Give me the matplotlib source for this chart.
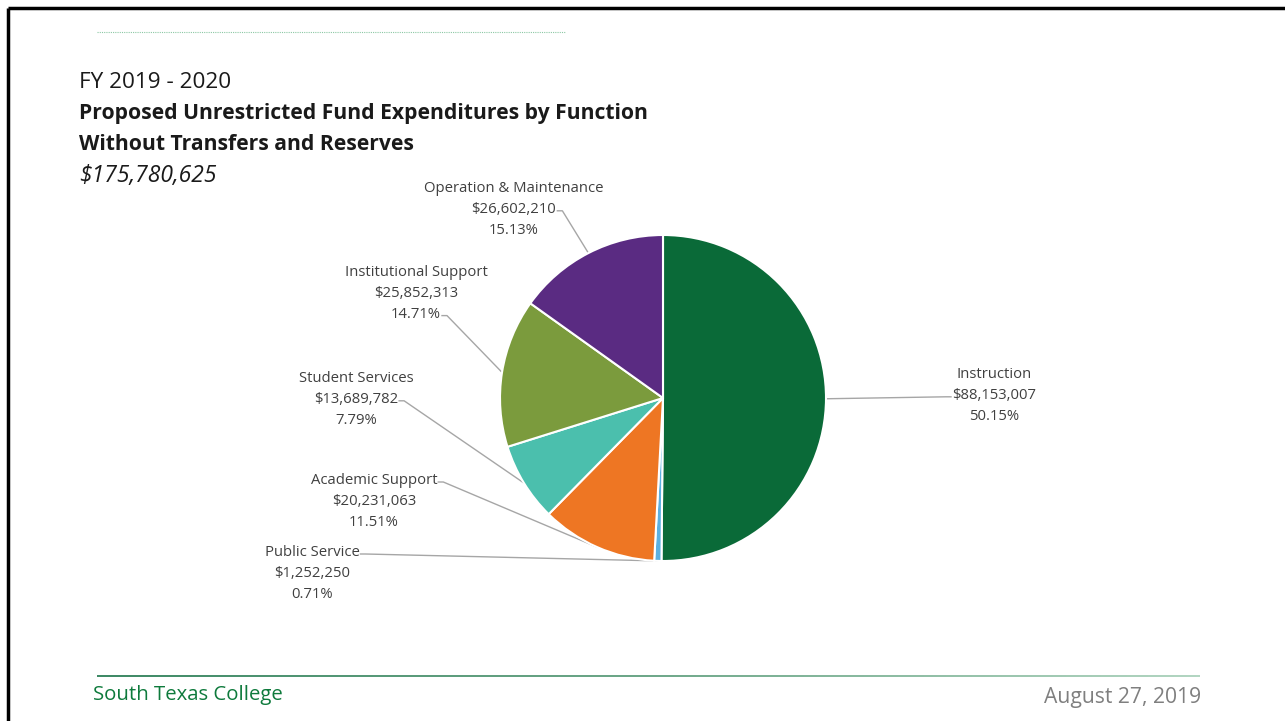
import numpy as np
import matplotlib
matplotlib.use('Agg')
import matplotlib.pyplot as plt
from matplotlib.colors import LinearSegmentedColormap

W, H = 1285, 721

# data, clockwise from 12 o'clock
names = ['Instruction', 'Public Service', 'Academic Support', 'Student Services',
         'Institutional Support', 'Operation & Maintenance']
values = [88153007, 1252250, 20231063, 13689782, 25852313, 26602210]
colors = ['#0a6a38', '#5bb0e2', '#ee7623', '#4bbfad', '#7b9b3d', '#5a2b82']

# label block centre x, y of first line, side the leader leaves, and which line it leaves from
label_pos = {
    'Instruction': (994, 375, 'r', 1),
    'Public Service': (312, 553, 'l', 0),
    'Academic Support': (374, 481, 'l', 0),
    'Student Services': (356, 379, 'l', 1),
    'Institutional Support': (416, 273, 'l', 2),
    'Operation & Maintenance': (514, 189, 'l', 1),
}

def Y(y):
    return H - y

plt.rcParams['font.family'] = ['Open Sans', 'DejaVu Sans']
fig = plt.figure(figsize=(W / 100, H / 100), dpi=100)
ax = fig.add_axes([0, 0, 1, 1])

cx, cy, r = 663, Y(398), 163
wedges, _ = ax.pie(values, colors=colors, startangle=90, counterclock=False,
                   center=(cx, cy), radius=r, frame=True,
                   wedgeprops=dict(edgecolor='white', linewidth=1.5))
ax.set_xlim(0, W)
ax.set_ylim(0, H)
ax.axis('off')
fig.canvas.draw()
renderer = fig.canvas.get_renderer()
inv = ax.transData.inverted()

total = sum(values)
for w, name, v in zip(wedges, names, values):
    lx, ly, side, k = label_pos[name]
    lines = [name, f'${v:,.0f}', f'{v / total * 100:.2f}%']
    txts = []
    for i, t in enumerate(lines):
        txts.append(ax.text(lx, Y(ly + i * 20.8), t, ha='center', va='center',
                            fontsize=10.7, color='#404040'))
    bb = txts[k].get_window_extent(renderer)
    (x0, _), (x1, _) = inv.transform([[bb.x0, bb.y0], [bb.x1, bb.y1]])
    sy = Y(ly + k * 20.8) - 1
    mid = np.deg2rad((w.theta1 + w.theta2) / 2)
    ex, ey = cx + r * np.cos(mid), cy + r * np.sin(mid)
    if side == 'l':
        sx = x1 + 1
        ax.plot([sx, sx + 5, ex], [sy, sy, ey], color='#a6a6a6', lw=1, zorder=0)
    else:
        sx = x0 - 1
        ax.plot([ex, sx - 5, sx], [ey, sy, sy], color='#a6a6a6', lw=1, zorder=0)

# titles
ax.text(79, Y(82), 'FY 2019 - 2020', fontsize=16.2, color='#1a1a1a', va='center')
ax.text(79, Y(113), 'Proposed Unrestricted Fund Expenditures by Function',
        fontsize=15.2, fontweight='bold', color='#1a1a1a', va='center')
ax.text(79, Y(144), 'Without Transfers and Reserves',
        fontsize=15.2, fontweight='bold', color='#1a1a1a', va='center')
ax.text(79, Y(176), f'${total:,.0f}', fontsize=16.5, fontstyle='italic',
        color='#1a1a1a', va='center')

# slide decoration
ax.plot([97, 565], [Y(32), Y(32)], color='#8cc8a4', lw=0.8, ls=(0, (1, 1)))
ax.plot([8, W], [Y(8), Y(8)], color='black', lw=2.5, solid_capstyle='butt')
ax.plot([8, 8], [Y(8), 0], color='black', lw=2.5, solid_capstyle='butt')

grad = LinearSegmentedColormap.from_list('g', ['#3f8a66', '#6fa88a', '#b3d6c2'])
ax.imshow(np.linspace(0, 1, 256)[None, :], cmap=grad, aspect='auto',
          extent=(97, 1200, Y(677.5), Y(675.5)), zorder=1)
ax.text(93, Y(695), 'South Texas College', fontsize=14.7, color='#0e7a3c', va='center')
ax.text(1201, Y(697), 'August 27, 2019', fontsize=15.2, color='#7f7f7f',
        va='center', ha='right')
ax.set_xlim(0, W)
ax.set_ylim(0, H)

fig.savefig('out.png', dpi=100)
